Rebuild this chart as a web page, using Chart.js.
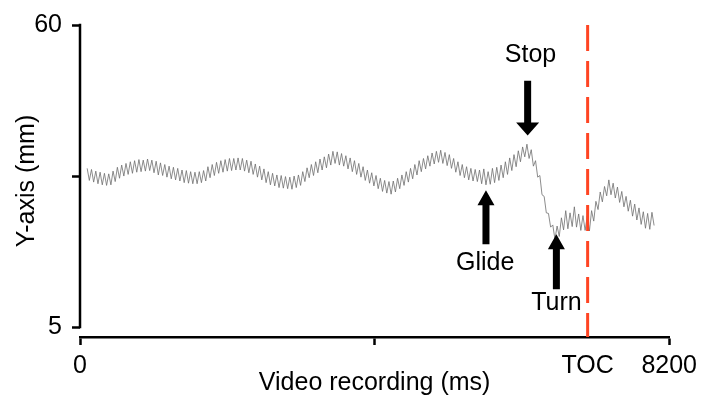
<!DOCTYPE html>
<html>
<head>
<meta charset="utf-8">
<script src="https://cdn.jsdelivr.net/npm/chart.js@4/dist/chart.umd.min.js"></script>
<style>
  html, body { margin: 0; padding: 0; background: #ffffff; }
  #wrap { width: 703px; height: 402px; position: relative; }
</style>
</head>
<body>
<div id="wrap"><canvas id="c" width="703" height="402"></canvas></div>
<script>
// ---- Data ----
const xTickValues = [0, 4100, 7065, 8200];
const xTickLabels = ['0', '', 'TOC', '8200'];
const yTickValues = [5, 32.5, 60];
const yTickLabels = ['5', '', '60'];
const tocMs = 7065;

// sampling of the recorded trace (ms)
const sampleStartMs = 100;
const sampleStepMs = 30;

// Y-axis position (mm), one value per sample
const yPositionMm = [
  33.9, 31.7, 33.7, 31.4, 33.4, 31.1, 33.2, 30.9, 33.0, 30.8,
  32.9, 30.9, 33.4, 31.5, 34.1, 32.1, 34.5, 32.5, 34.8, 32.8,
  35.1, 33.0, 35.3, 33.2, 35.5, 33.3, 35.4, 33.4, 35.6, 33.5,
  35.4, 33.1, 35.2, 32.7, 34.9, 32.6, 34.6, 32.3, 34.3, 32.0,
  34.1, 31.8, 33.9, 31.6, 33.6, 31.3, 33.5, 31.2, 33.3, 31.1,
  33.2, 31.1, 33.3, 31.3, 33.5, 31.6, 34.2, 32.2, 34.6, 32.6,
  35.0, 33.0, 35.3, 33.2, 35.5, 33.4, 35.7, 33.5, 35.7, 33.6,
  35.8, 33.6, 35.7, 33.4, 35.4, 33.1, 35.2, 32.8, 34.7, 32.3,
  34.3, 31.8, 33.8, 31.3, 33.3, 30.9, 33.0, 30.7, 32.7, 30.4,
  32.6, 30.3, 32.4, 30.2, 32.3, 30.1, 32.5, 30.4, 32.7, 30.8,
  33.3, 31.5, 34.0, 32.2, 34.6, 32.6, 35.1, 33.1, 35.6, 33.6,
  36.0, 34.0, 36.5, 34.5, 37.0, 34.8, 36.9, 34.5, 36.6, 34.3,
  36.2, 33.8, 35.8, 33.3, 35.3, 32.8, 34.8, 32.3, 34.2, 31.7,
  33.6, 31.2, 33.1, 30.7, 32.6, 30.2, 32.1, 29.7, 31.7, 29.4,
  31.5, 29.2, 31.6, 29.6, 32.1, 30.2, 32.7, 30.8, 33.3, 31.4,
  33.9, 32.0, 34.6, 32.7, 35.3, 33.3, 35.7, 33.8, 36.2, 34.3,
  36.7, 34.7, 37.0, 35.0, 37.2, 34.8, 36.8, 34.4, 36.4, 33.9,
  35.7, 33.2, 35.1, 32.6, 34.6, 32.2, 34.2, 31.8, 33.9, 31.6,
  33.7, 31.5, 33.6, 31.1, 33.8, 30.9, 33.3, 31.0, 33.9, 31.3,
  34.1, 31.7, 34.5, 32.2, 35.1, 32.8, 35.8, 33.5, 36.4, 34.2,
  37.1, 35.1, 37.8, 36.0, 38.3, 35.7, 37.3, 34.3, 35.3, 32.3,
  32.6, 29.1, 28.8, 25.8, 25.7, 23.2, 23.6, 21.0, 23.4, 21.5,
  24.9, 22.7, 26.2, 22.9, 25.8, 23.3, 26.9, 23.2, 25.6, 22.6,
  25.3, 22.6, 25.2, 22.5, 26.2, 24.3, 27.9, 26.4, 29.6, 27.8,
  30.6, 28.9, 31.8, 29.1, 31.2, 28.5, 30.5, 27.7, 29.7, 26.9,
  28.8, 26.1, 28.1, 25.2, 27.4, 24.5, 26.7, 23.7, 26.0, 23.0,
  25.7, 22.8, 25.9, 23.5
];

// event annotations (data coordinates)
const eventNames = ['Stop', 'Glide', 'Turn'];
const eventArrowMs = [6230, 5650, 6630];
const eventArrowTip = [39.9, 29.9, 21.9];
const eventArrowTail = [49.85, 20.1, 11.9];
const eventLabelMs = [6270, 5640, 6630];
const eventLabelY = [54.5, 16.6, 9.4];

// ---- Build chart ----
const points = yPositionMm.map((v, i) => ({ x: sampleStartMs + i * sampleStepMs, y: v }));

const FONT = 'Liberation Sans, Arial, Helvetica, sans-serif';
const FSIZE = 25;

const annotPlugin = {
  id: 'annot',
  afterDatasetsDraw(chart) {
    const { ctx, scales: { x, y } } = chart;
    ctx.save();
    // TOC dashed line
    const tx = x.getPixelForValue(tocMs);
    ctx.strokeStyle = '#ff4422';
    ctx.lineWidth = 3;
    ctx.setLineDash([26, 10]);
    ctx.beginPath();
    ctx.moveTo(tx, y.getPixelForValue(60));
    ctx.lineTo(tx, chart.chartArea.bottom);
    ctx.stroke();
    ctx.setLineDash([]);

    // y axis line (from 5 to 60)
    ctx.strokeStyle = '#000';
    ctx.lineWidth = 2.5;
    ctx.beginPath();
    ctx.moveTo(chart.chartArea.left, y.getPixelForValue(60) - 1.25);
    ctx.lineTo(chart.chartArea.left, y.getPixelForValue(5) + 1.25);
    ctx.stroke();

    // arrows
    ctx.fillStyle = '#000';
    for (let i = 0; i < eventNames.length; i++) {
      const ax = x.getPixelForValue(eventArrowMs[i]);
      const tip = y.getPixelForValue(eventArrowTip[i]);
      const tail = y.getPixelForValue(eventArrowTail[i]);
      const dir = tail < tip ? 1 : -1; // 1: pointing down
      const headLen = dir === 1 ? 13 : 15;
      const headHalf = dir === 1 ? 11.5 : 8.5;
      const shaftHalf = 3.5;
      const headBase = tip - dir * headLen;
      ctx.beginPath();
      ctx.moveTo(ax - shaftHalf, tail);
      ctx.lineTo(ax + shaftHalf, tail);
      ctx.lineTo(ax + shaftHalf, headBase);
      ctx.lineTo(ax + headHalf, headBase);
      ctx.lineTo(ax, tip);
      ctx.lineTo(ax - headHalf, headBase);
      ctx.lineTo(ax - shaftHalf, headBase);
      ctx.closePath();
      ctx.fill();

      ctx.font = FSIZE + 'px ' + FONT;
      ctx.textAlign = 'center';
      ctx.textBaseline = 'middle';
      ctx.fillText(eventNames[i], x.getPixelForValue(eventLabelMs[i]), y.getPixelForValue(eventLabelY[i]));
    }
    ctx.restore();
  }
};

new Chart(document.getElementById('c'), {
  type: 'line',
  data: {
    datasets: [{
      data: points,
      borderColor: '#6e6e6e',
      borderWidth: 0.8,
      pointRadius: 0,
      tension: 0,
      fill: false
    }]
  },
  options: {
    responsive: false,
    animation: false,
    events: [],
    layout: { padding: { top: 18, right: 31, bottom: 0, left: 0 } },
    plugins: { legend: { display: false }, tooltip: { enabled: false } },
    scales: {
      x: {
        type: 'linear',
        min: 0,
        max: 8200,
        afterBuildTicks: s => { s.ticks = xTickValues.map(v => ({ value: v })); },
        afterFit: s => { s.height = 65; },
        ticks: {
          autoSkip: false,
          maxRotation: 0,
          padding: 6,
          color: '#000',
          font: { family: FONT, size: FSIZE },
          callback: (v) => { const k = xTickValues.indexOf(v); return k >= 0 ? xTickLabels[k] : ''; }
        },
        grid: {
          drawOnChartArea: false,
          drawTicks: true,
          tickLength: 8,
          tickWidth: 2.5,
          color: '#000',
          tickColor: c => (c.tick && c.tick.value === tocMs) ? 'rgba(0,0,0,0)' : '#000'
        },
        border: { display: true, color: '#000', width: 2.5 },
        title: {
          display: true,
          text: 'Video recording (ms)',
          color: '#000',
          font: { family: FONT, size: FSIZE },
          padding: { top: 0, bottom: 4 }
        }
      },
      y: {
        type: 'linear',
        min: 3.2,
        max: 60,
        afterBuildTicks: s => { s.ticks = yTickValues.map(v => ({ value: v })); },
        afterFit: s => { s.width = 80; },
        ticks: {
          autoSkip: false,
          padding: 10,
          color: '#000',
          font: { family: FONT, size: FSIZE },
          callback: (v) => { const k = yTickValues.indexOf(v); return k >= 0 ? yTickLabels[k] : ''; }
        },
        grid: {
          drawOnChartArea: false,
          drawTicks: true,
          tickLength: 8,
          tickWidth: 2.5,
          color: '#000'
        },
        border: { display: false },
        title: {
          display: true,
          text: 'Y-axis (mm)',
          color: '#000',
          font: { family: FONT, size: FSIZE },
          padding: { top: 12, bottom: 0 }
        }
      }
    }
  },
  plugins: [annotPlugin]
});
</script>
</body>
</html>
